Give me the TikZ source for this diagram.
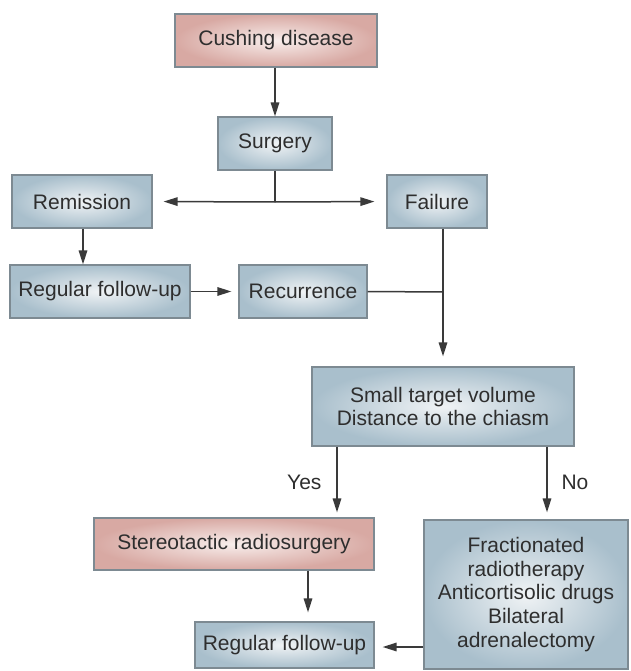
\documentclass[tikz,border=0pt]{standalone}
\usepackage{fontspec}
\setmainfont{Liberation Sans}
\usetikzlibrary{arrows.meta,calc}
\definecolor{boxline}{HTML}{7D8A92}
\definecolor{blueout}{HTML}{A9BFCC}
\definecolor{bluein}{HTML}{F0F3F5}
\definecolor{pinkout}{HTML}{D8A9A3}
\definecolor{pinkin}{HTML}{F8EEEC}
\definecolor{txt}{HTML}{2E2E2E}
\definecolor{conn}{HTML}{3A3A3A}
\begin{document}
\begin{tikzpicture}[x=1pt,y=-1pt,
  base/.style={draw=boxline,line width=1.2pt,inner sep=0pt,align=center,text=txt,
    font=\fontsize{21}{23.8}\selectfont,shading=radial},
  bluebox/.style={base,inner color=bluein,outer color=blueout},
  pinkbox/.style={base,inner color=pinkin,outer color=pinkout},
  conline/.style={draw=conn,line width=1.5pt},
  arr/.style={conline,-{Triangle[width=8.5pt,length=14pt]}},
  lbl/.style={text=txt,font=\fontsize{21}{23.8}\selectfont}]
\useasboundingbox (0,0) rectangle (630,671);
\node[pinkbox,minimum width=202pt,minimum height=53pt] (cush) at (276,40.5) {Cushing disease};
\node[bluebox,minimum width=114pt,minimum height=53pt] (surg) at (275,143.5) {Surgery};
\node[bluebox,minimum width=140pt,minimum height=53pt] (remis) at (82,201.5) {Remission};
\node[bluebox,minimum width=100pt,minimum height=53pt] (fail) at (437,201.5) {Failure};
\node[bluebox,minimum width=180pt,minimum height=53pt] (rfu1) at (100,291.5) {Regular follow-up};
\node[bluebox,minimum width=128pt,minimum height=53pt] (recur) at (303,291.5) {Recurrence};
\node[bluebox,minimum width=262pt,minimum height=79pt] (small) at (443,406.5) {Small target volume\\Distance to the chiasm};
\node[pinkbox,minimum width=280pt,minimum height=52pt] (stereo) at (234,544) {Stereotactic radiosurgery};
\node[bluebox,minimum width=204pt,minimum height=149pt] (big) at (526,594.5) {Fractionated\\radiotherapy\\Anticortisolic drugs\\Bilateral\\adrenalectomy};
\node[bluebox,minimum width=179pt,minimum height=46pt] (rfu2) at (284.5,645) {Regular follow-up};
\coordinate (split) at (275,202);
\coordinate (join) at (443,292);
% connectors
\draw[arr] (cush.south -| surg.north) -- (surg.north);
\draw[conline] (surg.south) -- (split);
\draw[arr,shorten >=11pt] (split) -- (remis.east);
\draw[arr,shorten >=12pt] (split) -- (fail.west);
\draw[arr] (remis.south -| 83,0) -- (rfu1.north -| 83,0);
\draw[arr,shorten >=7pt] (rfu1.east) -- (recur.west);
\draw[conline] (recur.east) -- (join);
\draw[arr,shorten >=10pt] (small.north |- fail.south) -- (small.north);
\draw[arr,shorten >=5pt] (small.south -| 337,0) -- (stereo.north -| 337,0);
\draw[arr,shorten >=7pt] (small.south -| 547,0) -- (big.north -| 547,0);
\draw[arr,shorten >=9pt] (stereo.south -| 308,0) -- (rfu2.north -| 308,0);
\draw[arr,shorten >=8pt] (big.west |- 0,647) -- (rfu2.east |- 0,647);
\node[lbl,anchor=east] (yes) at (325,482) {Yes};
\node[lbl,anchor=west] (no) at (558,482) {No};
\end{tikzpicture}
\end{document}
